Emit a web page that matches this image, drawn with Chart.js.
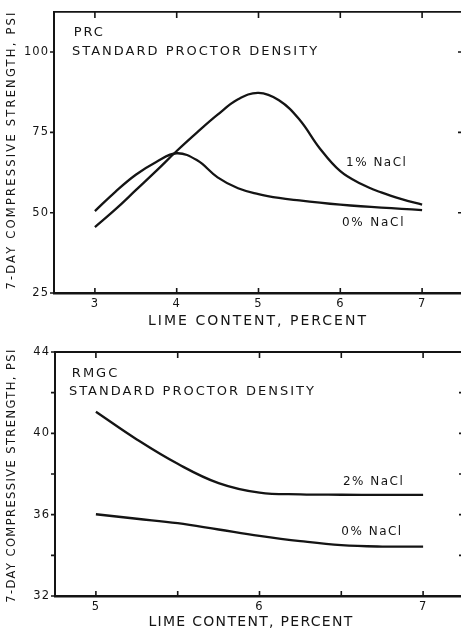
<!DOCTYPE html>
<html>
<head>
<meta charset="utf-8">
<script src="https://cdn.jsdelivr.net/npm/chart.js@4.4.1/dist/chart.umd.min.js"></script>
<style>
html, body { margin: 0; padding: 0; background: #fff; overflow: hidden; }
#wrap { position: relative; width: 461px; height: 631px; overflow: hidden; }
.panel { position: absolute; left: 0; width: 470px; }
#topPanel { top: 0; height: 330px; }
#bottomPanel { top: 330px; height: 301px; }
</style>
</head>
<body>
<div id="wrap">
  <div class="panel" id="topPanel"><canvas id="prcChart"></canvas></div>
  <div class="panel" id="bottomPanel"><canvas id="rmgcChart"></canvas></div>
</div>
<script>
// PRC soil - 7-day strength (psi) vs lime content (%), every 0.25 %
const prcLime = [3, 3.25, 3.5, 3.75, 4, 4.25, 4.5, 4.75, 5, 5.25, 5.5, 5.75, 6, 6.25, 6.5, 6.75, 7];
const prc0NaCl = [50.5, 56.5, 61.8, 65.8, 68.5, 66.3, 61, 57.6, 55.8, 54.6, 53.8, 53.1, 52.5, 52, 51.6, 51.2, 50.8];
const prc1NaCl = [45.5, 51, 57, 63, 69.2, 75, 80.5, 85.3, 87.3, 85, 79, 70, 62.9, 59, 56.3, 54.2, 52.5];
const prcXTicks = [3, 4, 5, 6, 7];
const prcYTicks = [25, 50, 75, 100];

// RMGC soil
const rmgcLime = [5, 5.25, 5.5, 5.75, 6, 6.25, 6.5, 6.75, 7];
const rmgc2NaCl = [41.06, 39.7, 38.5, 37.55, 37.08, 37.0, 36.98, 36.97, 36.97];
const rmgc0NaCl = [36.02, 35.8, 35.58, 35.27, 34.96, 34.7, 34.5, 34.43, 34.43];
const rmgcXTicks = [5, 5.5, 6, 6.5, 7];
const rmgcYTicks = [32, 34, 36, 38, 40, 42, 44];

const ink = '#141414';
const face = '"DejaVu Sans", sans-serif';

const toPoints = (xs, ys) => xs.map((x, i) => ({ x: x, y: ys[i] }));

// frame, inward tick marks, notes and axis titles in the old drafting style
const paperFrame = {
    id: 'paperFrame',
    beforeDraw(chart) {
        chart.ctx.letterSpacing = '1px';
    },
    afterDraw(chart, args, opts) {
        const ctx = chart.ctx;
        const { left, right, top, bottom } = chart.chartArea;
        const xs = chart.scales.x, ys = chart.scales.y;
        ctx.save();
        ctx.strokeStyle = ink;
        ctx.lineWidth = 1.8;
        ctx.beginPath();
        ctx.moveTo(left, top);
        ctx.lineTo(right, top);
        ctx.lineTo(right, bottom);
        ctx.stroke();

        ctx.lineWidth = 1.6;
        ctx.beginPath();
        xs.ticks.forEach(t => {
            const px = xs.getPixelForValue(t.value);
            ctx.moveTo(px, bottom);
            ctx.lineTo(px, bottom - 5);
            ctx.moveTo(px, top);
            ctx.lineTo(px, top + 6);
        });
        ys.ticks.forEach(t => {
            const py = ys.getPixelForValue(t.value);
            ctx.moveTo(left - 4, py);
            ctx.lineTo(left, py);
            ctx.moveTo(right - 5, py);
            ctx.lineTo(right, py);
        });
        ctx.stroke();

        ctx.fillStyle = ink;
        ctx.textBaseline = 'middle';
        ctx.textAlign = 'left';
        opts.notes.forEach(n => {
            ctx.font = n.size + 'px ' + face;
            ctx.letterSpacing = n.spacing + 'px';
            ctx.fillText(n.text, xs.getPixelForValue(n.x), ys.getPixelForValue(n.y));
        });

        ctx.textAlign = 'center';
        const xt = opts.xTitle;
        ctx.font = xt.size + 'px ' + face;
        ctx.letterSpacing = xt.spacing + 'px';
        ctx.fillText(xt.text, xt.cx, xt.cy);

        const yt = opts.yTitle;
        ctx.font = yt.size + 'px ' + face;
        ctx.letterSpacing = yt.spacing + 'px';
        ctx.translate(yt.cx, yt.cy);
        ctx.rotate(-Math.PI / 2);
        ctx.fillText(yt.text, 0, 0);
        ctx.restore();
    }
};

function lineSet(label, xs, ys) {
    return {
        label: label,
        data: toPoints(xs, ys),
        borderColor: ink,
        borderWidth: 2.3,
        pointRadius: 0,
        fill: false,
        tension: 0.4
    };
}

function buildOptions(cfg) {
    return {
        responsive: true,
        maintainAspectRatio: false,
        animation: false,
        devicePixelRatio: 1,
        layout: { padding: { top: cfg.padTop, right: cfg.padRight, left: 0, bottom: 0 } },
        plugins: {
            legend: { display: false },
            tooltip: { enabled: false },
            paperFrame: {
                notes: cfg.notes,
                xTitle: cfg.xTitle,
                yTitle: cfg.yTitle
            }
        },
        scales: {
            x: {
                type: 'linear',
                min: cfg.xMin,
                max: cfg.xMax,
                afterBuildTicks: s => { s.ticks = cfg.xTicks.map(v => ({ value: v })); },
                afterFit: s => { s.height = cfg.xHeight; },
                ticks: {
                    color: ink,
                    font: { family: face, size: 11.5 },
                    padding: 4,
                    maxRotation: 0,
                    autoSkip: false,
                    callback: v => Number.isInteger(v) ? String(v) : ''
                },
                grid: { drawOnChartArea: false, drawTicks: false },
                border: { color: ink, width: 2.6 }
            },
            y: {
                min: cfg.yMin,
                max: cfg.yMax,
                afterBuildTicks: s => { s.ticks = cfg.yTicks.map(v => ({ value: v })); },
                afterFit: s => { s.width = cfg.yWidth; },
                ticks: {
                    color: ink,
                    font: { family: face, size: 11.5 },
                    padding: 5,
                    autoSkip: false,
                    callback: v => (v % cfg.yLabelStep === 0) ? String(v) : ''
                },
                grid: { drawOnChartArea: false, drawTicks: false },
                border: { color: ink, width: 2 }
            }
        }
    };
}

new Chart(document.getElementById('prcChart'), {
    type: 'line',
    data: {
        datasets: [
            lineSet('0% NaCl', prcLime, prc0NaCl),
            lineSet('1% NaCl', prcLime, prc1NaCl)
        ]
    },
    options: buildOptions({
        padTop: 9, padRight: 7, xHeight: 37, yWidth: 54,
        xMin: 2.5, xMax: 7.5, yMin: 25, yMax: 112.5,
        xTicks: prcXTicks, yTicks: prcYTicks, yLabelStep: 25,
        notes: [
            { text: 'PRC', x: 2.74, y: 106, size: 13, spacing: 2 },
            { text: 'STANDARD PROCTOR DENSITY', x: 2.72, y: 100, size: 13, spacing: 2 },
            { text: '1% NaCl', x: 6.07, y: 65.4, size: 12, spacing: 1.5 },
            { text: '0% NaCl', x: 6.02, y: 46.9, size: 12, spacing: 1.8 }
        ],
        xTitle: { text: 'LIME CONTENT, PERCENT', cx: 258, cy: 321, size: 14, spacing: 2 },
        yTitle: { text: '7-DAY COMPRESSIVE STRENGTH, PSI', cx: 12, cy: 150, size: 11.5, spacing: 2.2 }
    }),
    plugins: [paperFrame]
});

new Chart(document.getElementById('rmgcChart'), {
    type: 'line',
    data: {
        datasets: [
            lineSet('2% NaCl', rmgcLime, rmgc2NaCl),
            lineSet('0% NaCl', rmgcLime, rmgc0NaCl)
        ]
    },
    options: buildOptions({
        padTop: 22, padRight: 6, xHeight: 35, yWidth: 55,
        xMin: 4.75, xMax: 7.25, yMin: 32, yMax: 44,
        xTicks: rmgcXTicks, yTicks: rmgcYTicks, yLabelStep: 4,
        notes: [
            { text: 'RMGC', x: 4.853, y: 42.95, size: 13, spacing: 2 },
            { text: 'STANDARD PROCTOR DENSITY', x: 4.835, y: 42.03, size: 13, spacing: 2 },
            { text: '2% NaCl', x: 6.51, y: 37.6, size: 12, spacing: 1.5 },
            { text: '0% NaCl', x: 6.5, y: 35.15, size: 12, spacing: 1.5 }
        ],
        xTitle: { text: 'LIME CONTENT, PERCENT', cx: 251, cy: 292.5, size: 14, spacing: 1.3 },
        yTitle: { text: '7-DAY COMPRESSIVE STRENGTH, PSI', cx: 12, cy: 145.5, size: 11.5, spacing: 1.4 }
    }),
    plugins: [paperFrame]
});
</script>
</body>
</html>
